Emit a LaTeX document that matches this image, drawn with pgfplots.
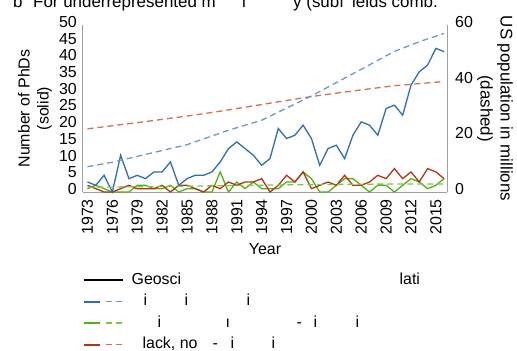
\documentclass[border=0pt]{standalone}
\usepackage{fontspec}
\setmainfont{Liberation Sans}
\usepackage{pgfplots}
\pgfplotsset{compat=1.18}
\definecolor{cBlue}{RGB}{48,108,186}
\definecolor{cBlueL}{RGB}{106,151,214}
\definecolor{cGreen}{RGB}{82,178,20}
\definecolor{cGreenL}{RGB}{125,198,70}
\definecolor{cRed}{RGB}{178,52,22}
\definecolor{cRedL}{RGB}{214,110,84}
\definecolor{cAxis}{RGB}{160,160,160}
\newcommand\ff{\fontsize{16}{19}\selectfont}
\newcommand\frag[2]{\makebox[0pt][l]{\hspace*{#1bp}#2}}
\pgfplotsset{
  common/.style={
    at={(82.5bp,-192bp)}, anchor=south west, scale only axis,
    width=365bp, height=167bp,
    xmin=1972.4, xmax=2016.4,
    major tick length=0pt,
    axis line style={-, draw=cAxis, line width=0.9bp},
    /pgf/number format/assume math mode=true,
    /pgf/number format/1000 sep={},
    tick label style={font=\ff, inner sep=0pt},
    clip=false,
  },
  sol/.style={line width=1.3bp},
  dsh/.style={line width=1.3bp, dash pattern=on 6bp off 4bp},
}
\begin{document}
\begin{tikzpicture}[x=1bp,y=1bp]
% title (cut at the top edge)
\node[anchor=base west, inner sep=0, font=\fontsize{17}{20}\selectfont] at (13bp,-7bp) {b};
\node[anchor=base west, inner sep=0, font=\fontsize{17}{20}\selectfont] at (33bp,-7bp) {For underrepresented m};
\node[anchor=base west, inner sep=0, font=\fontsize{17}{20}\selectfont] at (242bp,-7bp) {i};
\node[anchor=base west, inner sep=0, font=\fontsize{17}{20}\selectfont] at (293bp,-7bp) {y (subf};
\node[anchor=base west, inner sep=0, font=\fontsize{17}{20}\selectfont] at (352bp,-7bp) {ields comb.};

\begin{axis}[common,
  ymin=0, ymax=50,
  axis x line*=bottom, axis y line*=left,
  xtick={1973,1976,...,2015}, ytick={0,5,...,50},
  xticklabel style={rotate=90, anchor=east, xshift=-2bp},
  xticklabel shift=5bp,
  yticklabel style={yshift=3bp},
  yticklabel shift=5.5bp,
  xlabel={Year},
  xlabel style={at={(axis description cs:0.5,-0.341)}, anchor=center, font=\ff},
  ylabel={Number of PhDs\\(solid)},
  ylabel style={at={(axis description cs:-0.130,0.5)}, anchor=center, align=center, font=\ff},
  legend style={at={(axis description cs:0,-0.48)}, anchor=north west, draw=none, fill=none,
    inner sep=0pt, outer sep=0pt, row sep=5.5bp,
    nodes={inner sep=0pt, text height=12bp, text depth=4bp, font=\ff},
    /tikz/every odd column/.append style={column sep=8bp}},
  legend cell align=left,
]
\addlegendimage{legend image code/.code={\draw[black, line width=2bp] (0bp,0bp) -- (39bp,0bp);}}
\addlegendentry{\frag{0}{Geosci}\frag{268}{lati}\hspace*{295bp}}
\addlegendimage{legend image code/.code={\draw[cBlue, line width=2.2bp] (0bp,0bp) -- (16bp,0bp);\draw[cBlueL, line width=1.4bp, dash pattern=on 6bp off 4bp] (22bp,0bp) -- (39bp,0bp);}}
\addlegendentry{\frag{12}{i}\frag{53}{i}\frag{115}{i}\hspace*{295bp}}
\addlegendimage{legend image code/.code={\draw[cGreen, line width=2.2bp] (0bp,0bp) -- (16bp,0bp);\draw[cGreenL, line width=1.4bp, dash pattern=on 6bp off 4bp] (22bp,0bp) -- (39bp,0bp);}}
\addlegendentry{\frag{26}{i}\frag{94}{ı}\frag{165}{-}\frag{182}{i}\frag{224}{i}\hspace*{295bp}}
\addlegendimage{legend image code/.code={\draw[cRed, line width=2.2bp] (0bp,0bp) -- (16bp,0bp);\draw[cRedL, line width=1.4bp, dash pattern=on 6bp off 4bp] (22bp,0bp) -- (39bp,0bp);}}
\addlegendentry{\frag{11}{lack, no}\frag{81}{-}\frag{99}{i}\frag{140}{i}\hspace*{295bp}}

% Green solid
\addplot[forget plot, sol, cGreen] coordinates {
(1973,1)(1974,2)(1975,1)(1976,0)(1977,0)(1978,0)(1979,2)(1980,2)(1981,1)(1982,1)
(1983,2)(1984,0)(1985,1)(1986,1)(1987,0)(1988,0)(1989,6)(1990,0)(1991,3)(1992,1)
(1993,3)(1994,1)(1995,1)(1996,1)(1997,3)(1998,3)(1999,6)(2000,4)(2001,0)(2002,0)
(2003,2)(2004,4)(2005,4)(2006,2)(2007,0)(2008,2)(2009,2)(2010,0)(2011,2)(2012,4)
(2013,3)(2014,1)(2015,2)(2016,4)};
% Red solid
\addplot[forget plot, sol, cRed] coordinates {
(1973,2)(1974,1)(1975,0)(1976,0)(1977,1)(1978,2)(1979,1)(1980,1)(1981,1)(1982,2)
(1983,0)(1984,2)(1985,2)(1986,1)(1987,0)(1988,2)(1989,1)(1990,3)(1991,2)(1992,3)
(1993,3)(1994,4)(1995,0)(1996,2)(1997,5)(1998,3)(1999,6)(2000,1)(2001,2)(2002,3)
(2003,2)(2004,5)(2005,2)(2006,2)(2007,3)(2008,5)(2009,4)(2010,7)(2011,4)(2012,6)
(2013,3)(2014,7)(2015,6)(2016,4)};
% Blue solid
\addplot[forget plot, sol, cBlue] coordinates {
(1973,3)(1974,2)(1975,5)(1976,0)(1977,11)(1978,4)(1979,5)(1980,4)(1981,6)(1982,6)
(1983,9)(1984,2)(1985,4)(1986,5)(1987,5)(1988,6)(1989,9)(1990,13)(1991,15)(1992,13)
(1993,11)(1994,8)(1995,10)(1996,19)(1997,16)(1998,17)(1999,20)(2000,16)(2001,8)(2002,13)
(2003,14)(2004,10)(2005,17)(2006,21)(2007,20)(2008,17)(2009,25)(2010,26)(2011,23)(2012,32)
(2013,36)(2014,38)(2015,43)(2016,42)};
\end{axis}

\begin{axis}[common,
  ymin=0, ymax=60,
  axis x line=none, axis y line*=right,
  ytick={0,20,40,60},
  yticklabel style={yshift=3bp},
  yticklabel shift=7.5bp,
  ylabel={US population in millions\\(dashed)},
  ylabel style={at={(axis description cs:1.130,0.5)}, anchor=center, align=center, rotate=180, font=\fontsize{17}{20}\selectfont},
]
% Green dashed
\addplot[dsh, cGreenL] coordinates {(1973,1.7)(1985,2.1)(1995,2.5)(2005,2.8)(2016,2.9)};
% Red dashed
\addplot[dsh, cRedL] coordinates {(1973,22.7)(1980,25.3)(1986,27.7)(1990,29.5)(2000,34.3)(2005,36.3)(2010,38.2)(2016,39.7)};
% Blue dashed
\addplot[dsh, cBlueL] coordinates {(1973,9.1)(1976,10.7)(1980,13.5)(1985,17.0)(1990,22.2)(1994,25.8)(2000,34.5)(2005,42.5)(2010,50.5)(2013,54)(2016,57)};
\end{axis}

\pgfresetboundingbox
\useasboundingbox (0bp,0bp) rectangle (517bp,-351bp);
\end{tikzpicture}
\end{document}
